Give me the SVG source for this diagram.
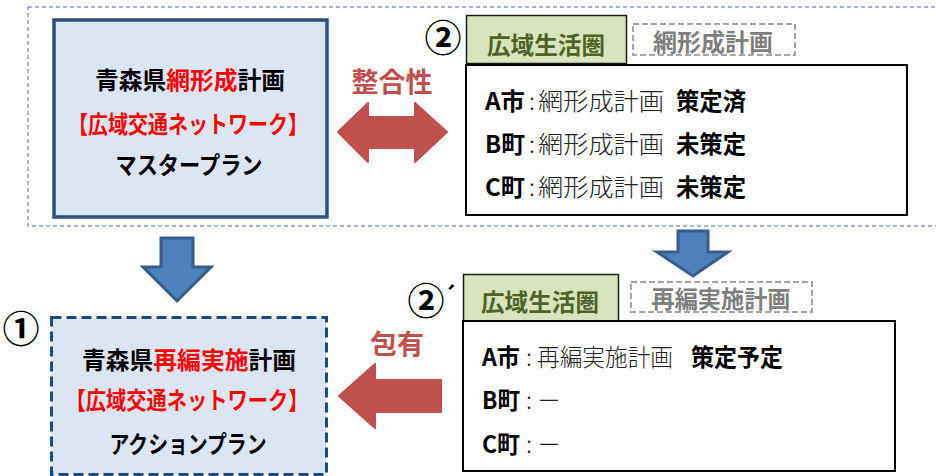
<svg xmlns="http://www.w3.org/2000/svg" width="936" height="476" viewBox="0 0 936 476">
<style>
text{font-family:"Noto Sans CJK JP","Noto Sans",sans-serif;dominant-baseline:central}
.b{font-weight:bold}
.blk{fill:#000}
.red{fill:#ff0000}
.lbl{fill:#c0504d;font-weight:bold;font-size:27px}
.tab{fill:#d7e4bd;stroke:#1a1a1a;stroke-width:1.5}
.tabt{fill:#4f6228;font-weight:bold;font-size:24px}
.gbox{fill:#fff;stroke:#a6a6a6;stroke-width:2;stroke-dasharray:6 3}
.gt{fill:#7f7f7f;font-weight:bold;font-size:24px}
.main{fill:#fff;stroke:#000;stroke-width:2}
.row{font-size:24px}
.thin{font-weight:300;fill:#222}
.num{font-size:37px;font-weight:bold}
.barrow{fill:#4f81bd;stroke:#385d8a;stroke-width:3;stroke-linejoin:miter}
.rarrow{fill:#c0504d;stroke:#c0504d;stroke-width:2;stroke-linejoin:round}
</style>

<rect x="28" y="7" width="920" height="219" fill="none" stroke="#4a6fa5" stroke-width="1" stroke-dasharray="4 3"/>

<g id="master">
<rect x="54" y="20" width="273" height="197" fill="#dce6f2" stroke="#2c4f7c" stroke-width="3.5"/>
<text x="190" y="78" text-anchor="middle" font-size="24" class="b" textLength="190" lengthAdjust="spacingAndGlyphs"><tspan class="blk">青森県</tspan><tspan class="red">網形成</tspan><tspan class="blk">計画</tspan></text>
<text x="188" y="122" text-anchor="middle" font-size="24" class="b red" textLength="240" lengthAdjust="spacingAndGlyphs">【広域交通ネットワーク】</text>
<text x="189" y="163" text-anchor="middle" font-size="24" class="b blk" textLength="147" lengthAdjust="spacingAndGlyphs">マスタープラン</text>
</g>

<g id="action">
<rect x="51.5" y="317.5" width="275" height="157" fill="#dce6f2" stroke="#1f4a7d" stroke-width="3" stroke-dasharray="10 5"/>
<text x="21" y="327" text-anchor="middle" class="num">①</text>
<text x="189" y="358" text-anchor="middle" font-size="24" class="b" textLength="214" lengthAdjust="spacingAndGlyphs"><tspan class="blk">青森県</tspan><tspan class="red">再編実施</tspan><tspan class="blk">計画</tspan></text>
<text x="187" y="398" text-anchor="middle" font-size="24" class="b red" textLength="243" lengthAdjust="spacingAndGlyphs">【広域交通ネットワーク】</text>
<text x="188" y="442" text-anchor="middle" font-size="24" class="b blk" textLength="157" lengthAdjust="spacingAndGlyphs">アクションプラン</text>
</g>

<g id="area-network">
<text x="443" y="36" text-anchor="middle" class="num">②</text>
<rect x="466.5" y="15.5" width="160" height="48" class="tab"/>
<text x="546" y="43" text-anchor="middle" class="tabt" textLength="118" lengthAdjust="spacingAndGlyphs">広域生活圏</text>
<rect x="633" y="24" width="162" height="31" class="gbox"/>
<text x="713" y="40" text-anchor="middle" class="gt" textLength="120" lengthAdjust="spacingAndGlyphs">網形成計画</text>
<rect x="466" y="65" width="441" height="150" class="main"/>
<g class="row">
<text x="485" y="99" class="b blk" textLength="40" lengthAdjust="spacingAndGlyphs">A市</text>
<text x="529" y="99" class="thin">:</text>
<text x="538" y="99" class="thin" textLength="126" lengthAdjust="spacingAndGlyphs">網形成計画</text>
<text x="676" y="99" class="b blk" textLength="70" lengthAdjust="spacingAndGlyphs">策定済</text>
<text x="485" y="142" class="b blk" textLength="40" lengthAdjust="spacingAndGlyphs">B町</text>
<text x="529" y="142" class="thin">:</text>
<text x="538" y="142" class="thin" textLength="126" lengthAdjust="spacingAndGlyphs">網形成計画</text>
<text x="676" y="142" class="b blk" textLength="70" lengthAdjust="spacingAndGlyphs">未策定</text>
<text x="485" y="185" class="b blk" textLength="40" lengthAdjust="spacingAndGlyphs">C町</text>
<text x="529" y="185" class="thin">:</text>
<text x="538" y="185" class="thin" textLength="126" lengthAdjust="spacingAndGlyphs">網形成計画</text>
<text x="676" y="185" class="b blk" textLength="70" lengthAdjust="spacingAndGlyphs">未策定</text>
</g>
</g>

<g id="area-action">
<text x="426" y="299" text-anchor="middle" class="num">②</text>
<text x="443" y="294" font-family="Liberation Sans, sans-serif" font-size="22" font-weight="bold" class="blk">´</text>
<rect x="463.5" y="274.5" width="155" height="48" class="tab"/>
<text x="540" y="300" text-anchor="middle" class="tabt" textLength="118" lengthAdjust="spacingAndGlyphs">広域生活圏</text>
<rect x="631" y="282" width="181" height="30" class="gbox"/>
<text x="721" y="297" text-anchor="middle" class="gt" textLength="139" lengthAdjust="spacingAndGlyphs">再編実施計画</text>
<rect x="463" y="321" width="432" height="150" class="main"/>
<g class="row">
<text x="482" y="355" class="b blk" textLength="38" lengthAdjust="spacingAndGlyphs">A市</text>
<text x="526" y="355" class="thin">:</text>
<text x="537" y="355" class="thin" textLength="136" lengthAdjust="spacingAndGlyphs">再編実施計画</text>
<text x="691" y="355" class="b blk" textLength="92" lengthAdjust="spacingAndGlyphs">策定予定</text>
<text x="482" y="398" class="b blk" textLength="38" lengthAdjust="spacingAndGlyphs">B町</text>
<text x="526" y="398" class="thin">:</text>
<text x="537" y="398" class="thin">－</text>
<text x="482" y="442" class="b blk" textLength="38" lengthAdjust="spacingAndGlyphs">C町</text>
<text x="526" y="442" class="thin">:</text>
<text x="537" y="442" class="thin">－</text>
</g>
</g>

<g id="connectors">
<polygon class="rarrow" points="338,132 368,103 368,117 415,117 415,103 447,132 415,162 415,148 368,148 368,162"/>
<text x="392" y="80" text-anchor="middle" class="lbl">整合性</text>
<polygon class="rarrow" points="339,396 375,364 375,380 441,380 441,412 375,412 375,428"/>
<text x="397" y="342" text-anchor="middle" class="lbl">包有</text>
<polygon class="barrow" points="161,238 193,238 193,267 211,267 177,301 143,267 161,267"/>
<polygon class="barrow" points="678,231 708,231 708,252 728,252 693,276 657,252 678,252"/>
</g>
</svg>
